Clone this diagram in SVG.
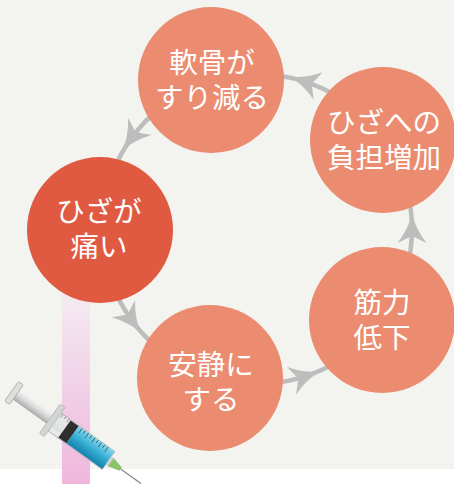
<svg xmlns="http://www.w3.org/2000/svg" width="454" height="484" viewBox="0 0 454 484">
  <defs>
    <style>
      .bg { fill: #f3f3ef; }
      .node { fill: #eb8c71; }
      .node.hot { fill: #e05a42; }
      .label { fill: #ffffff; font-family: "Liberation Sans", "Noto Sans CJK JP", sans-serif; font-size: 28.5px; text-anchor: middle; }
      .link { fill: none; stroke: #bdbdbd; stroke-width: 4.5; }
      .head { fill: #bdbdbd; }
    </style>
    <linearGradient id="band" x1="0" y1="300" x2="0" y2="484" gradientUnits="userSpaceOnUse">
      <stop offset="0" stop-color="#f4e9f1"/>
      <stop offset="1" stop-color="#efb6dc"/>
    </linearGradient>
    <linearGradient id="rod" x1="0" y1="-6" x2="0" y2="6" gradientUnits="userSpaceOnUse">
      <stop offset="0" stop-color="#f4f4f4"/>
      <stop offset="0.5" stop-color="#d8d8d8"/>
      <stop offset="1" stop-color="#a9a9a9"/>
    </linearGradient>
    <linearGradient id="liquid" x1="0" y1="-10" x2="0" y2="10" gradientUnits="userSpaceOnUse">
      <stop offset="0" stop-color="#7fd3ea"/>
      <stop offset="0.5" stop-color="#35aed4"/>
      <stop offset="1" stop-color="#1583ab"/>
    </linearGradient>
    <!-- barbed arrowhead, pointing along +x, centred on the origin -->
    <path id="arrowhead" class="head" d="M16 0 Q1 -3 -14 -14.5 L-7 0 L-14 14.5 Q1 3 16 0 Z"/>
  </defs>

  <!-- backdrop -->
  <rect class="bg" x="0" y="0" width="454" height="469"/>
  <rect x="0" y="469" width="454" height="15" fill="#ffffff"/>
  <rect x="62" y="240" width="28" height="244" fill="url(#band)"/>

  <!-- cycle connectors -->
  <g id="connectors">
    <path class="link" d="M391.2 306.5 A155 155 0 0 0 391.2 151.5"/>
    <path class="link" d="M372.2 125.3 A155 155 0 0 0 224.8 77.4"/>
    <path class="link" d="M194.0 87.4 A155 155 0 0 0 102.9 212.8"/>
    <path class="link" d="M102.9 245.2 A155 155 0 0 0 194.0 370.6"/>
    <path class="link" d="M224.8 380.6 A155 155 0 0 0 372.2 332.7"/>
    <use href="#arrowhead" transform="translate(412 229) rotate(-90)"/>
    <use href="#arrowhead" transform="translate(304.9 81.6) rotate(-162)"/>
    <use href="#arrowhead" transform="translate(131.6 137.9) rotate(126)"/>
    <use href="#arrowhead" transform="translate(131.6 320.1) rotate(54)"/>
    <use href="#arrowhead" transform="translate(304.9 376.4) rotate(-18)"/>
  </g>

  <!-- nodes -->
  <g id="node-cartilage">
    <circle class="node" cx="211" cy="80" r="73"/>
    <text class="label" x="212" y="73">軟骨が</text>
    <text class="label" x="212" y="108">すり減る</text>
  </g>
  <g id="node-load">
    <circle class="node" cx="383" cy="140" r="73"/>
    <text class="label" x="384" y="133">ひざへの</text>
    <text class="label" x="384" y="168">負担増加</text>
  </g>
  <g id="node-muscle">
    <circle class="node" cx="382" cy="320" r="73"/>
    <text class="label" x="382" y="313">筋力</text>
    <text class="label" x="382" y="348">低下</text>
  </g>
  <g id="node-rest">
    <circle class="node" cx="210" cy="378" r="73"/>
    <text class="label" x="211" y="375">安静に</text>
    <text class="label" x="211" y="410">する</text>
  </g>
  <g id="node-pain">
    <circle class="node hot" cx="100" cy="230" r="73"/>
    <text class="label" x="99" y="222">ひざが</text>
    <text class="label" x="99" y="257">痛い</text>
  </g>

  <!-- syringe, drawn along +x then tilted -->
  <g id="syringe" transform="translate(14 393) rotate(35.5)">
    <rect x="2" y="-6" width="60" height="12" fill="url(#rod)"/>
    <rect x="-3" y="-12" width="6" height="24" rx="1.5" fill="#dedede" stroke="#a8a8a8" stroke-width="0.8"/>
    <rect x="46" y="-11" width="70" height="22" fill="#e4e7e8" fill-opacity="0.85" stroke="#a9adaf" stroke-width="0.8"/>
    <rect x="44" y="-18" width="6" height="36" rx="1.5" fill="#d2d4d5" stroke="#a6a8a9" stroke-width="0.6"/>
    <rect x="62" y="-10.5" width="10" height="21" fill="#2e2e2e"/>
    <rect x="72" y="-10.5" width="44" height="21" fill="url(#liquid)"/>
    <g stroke="#1d4f63" stroke-width="0.8">
      <line x1="76" y1="-10.5" x2="76" y2="-5"/>
      <line x1="80" y1="-10.5" x2="80" y2="-7"/>
      <line x1="84" y1="-10.5" x2="84" y2="-5"/>
      <line x1="88" y1="-10.5" x2="88" y2="-7"/>
      <line x1="92" y1="-10.5" x2="92" y2="-5"/>
      <line x1="96" y1="-10.5" x2="96" y2="-7"/>
      <line x1="100" y1="-10.5" x2="100" y2="-5"/>
      <line x1="104" y1="-10.5" x2="104" y2="-7"/>
      <line x1="108" y1="-10.5" x2="108" y2="-5"/>
    </g>
    <g stroke="#6a6a6a" stroke-width="0.6">
      <line x1="52" y1="-11" x2="52" y2="-7"/>
      <line x1="56" y1="-11" x2="56" y2="-8"/>
      <line x1="60" y1="-11" x2="60" y2="-7"/>
    </g>
    <rect x="116" y="-5" width="4" height="10" fill="#cfd3d4"/>
    <path d="M119 -5 L131 -2 L131 2 L119 5 Z" fill="#8cc26c"/>
    <line x1="131" y1="0" x2="156" y2="0" stroke="#8a8a8a" stroke-width="1.3"/>
  </g>
</svg>
